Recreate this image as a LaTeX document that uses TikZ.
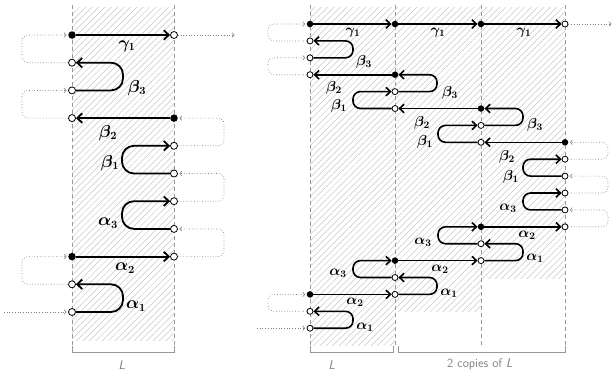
\documentclass[tikz,border=0pt]{standalone}
\usepackage{bm}
\usetikzlibrary{arrows.meta,patterns.meta}
\begin{document}
\begin{tikzpicture}[x=1pt,y=-1pt,
  fdotL/.style={circle,fill=black,inner sep=0pt,minimum size=7.5pt},
  odotL/.style={circle,draw=black,fill=white,inner sep=0pt,minimum size=7pt,line width=0.8pt},
  fdotR/.style={circle,fill=black,inner sep=0pt,minimum size=6.5pt},
  odotR/.style={circle,draw=black,fill=white,inner sep=0pt,minimum size=6pt,line width=0.8pt},
  arrL/.style={line width=1.8pt,-{Straight Barb[length=5pt,width=9.5pt]}},
  arrR/.style={line width=1.6pt,-{Straight Barb[length=4.5pt,width=8.5pt]}},
  dotl/.style={draw=gray,dotted,line width=0.7pt,-{Straight Barb[length=2pt,width=4.5pt,line width=0.6pt]},shorten >=1.5pt},
  hatch/.style={pattern={Lines[angle=45,distance=4.5pt,line width=0.5pt]},pattern color=gray!45},
  dsh/.style={draw=gray!80,dash pattern=on 4pt off 3pt,line width=0.7pt},
  brk/.style={draw=gray!80,line width=0.8pt},
  blbl/.style={text=gray,font=\sffamily\fontsize{12.5}{14}\selectfont,inner sep=0pt},
  lblL/.style={font=\fontsize{16}{18}\selectfont,inner sep=0pt},
  lblR/.style={font=\fontsize{14}{16}\selectfont,inner sep=0pt},
  UL/.style={rounded corners=12pt},
  UR/.style={rounded corners=7.5pt},
  LPL/.style={rounded corners=6pt},
]
\useasboundingbox (0,0) rectangle (615,373);
% ================= left diagram =================
\fill[hatch] (72,7) rectangle (174,340);
\draw[dsh] (72,5) -- (72,346);
\draw[dsh] (174,5) -- (174,346);
\draw[brk] (72,346) -- (72,352) -- (174,352) -- (174,346);
\node[blbl] (labL) at (122,365) {\textit{L}};

\node[fdotL] (Ll0) at (72,35) {};
\node[odotL] (Ll1) at (72,62.7) {};
\node[odotL] (Ll2) at (72,90.4) {};
\node[odotL] (Ll3) at (72,118.1) {};
\node[fdotL] (Ll8) at (72,256.6) {};
\node[odotL] (Ll9) at (72,284.3) {};
\node[odotL] (Ll10) at (72,312) {};
\node[odotL] (Lr0) at (174,35) {};
\node[fdotL] (Lr3) at (174,118.1) {};
\node[odotL] (Lr4) at (174,145.8) {};
\node[odotL] (Lr5) at (174,173.5) {};
\node[odotL] (Lr6) at (174,201.2) {};
\node[odotL] (Lr7) at (174,228.9) {};
\node[odotL] (Lr8) at (174,256.6) {};

\draw[arrL] (Ll0) -- (Lr0);
\draw[arrL,UL] (Ll2) -- (123,90.4) |- (Ll1);
\draw[arrL] (Lr3) -- (Ll3);
\draw[arrL,UL] (Lr5) -- (122,173.5) |- (Lr4);
\draw[arrL,UL] (Lr7) -- (122,228.9) |- (Lr6);
\draw[arrL] (Ll8) -- (Lr8);
\draw[arrL,UL] (Ll10) -- (123,312) |- (Ll9);

\draw[dotl,LPL] (Ll1) -- (22,62.7) |- (Ll0);
\draw[dotl,LPL] (Ll3) -- (22,118.1) |- (Ll2);
\draw[dotl,LPL] (Ll9) -- (22,284.3) |- (Ll8);
\draw[dotl,LPL] (Lr4) -- (224,145.8) |- (Lr3);
\draw[dotl,LPL] (Lr6) -- (224,201.2) |- (Lr5);
\draw[dotl,LPL] (Lr8) -- (224,256.6) |- (Lr7);
\coordinate (Lout) at (236,35);
\coordinate (Lin) at (4,312);
\draw[dotl] (Lr0) -- (Lout);
\draw[dotl] (Lin) -- (Ll10);

\node[lblL] (lg) at (127,46) {$\bm{\gamma_1}$};
\node[lblL] (lb3) at (137,88) {$\bm{\beta_3}$};
\node[lblL] (lb2) at (108,133) {$\bm{\beta_2}$};
\node[lblL] (lb1) at (110,163) {$\bm{\beta_1}$};
\node[lblL] (la3) at (108,223) {$\bm{\alpha_3}$};
\node[lblL] (la2) at (125,268) {$\bm{\alpha_2}$};
\node[lblL] (la1) at (136,306) {$\bm{\alpha_1}$};

% ================= right diagram =================
\fill[hatch] (310,7) rectangle (395,345);
\fill[hatch] (395,7) rectangle (481,311);
\fill[hatch] (481,7) rectangle (565,278);
\foreach \xx in {310,395,481,565} \draw[dsh] (\xx,5) -- (\xx,346);
\draw[brk] (310,346) -- (310,352) -- (393,352) -- (393,346);
\draw[brk] (398,346) -- (398,352) -- (565,352) -- (565,346);
\node[blbl] (labR1) at (332,365) {\textit{L}};
\node[blbl] (labR2) at (480,364) {2 copies of \textit{L}};

% column A
\node[fdotR] (A0) at (310,24) {};
\node[odotR] (A1) at (310,40.9) {};
\node[odotR] (A2) at (310,57.8) {};
\node[odotR] (A3) at (310,74.7) {};
\node[fdotR] (A16) at (310,294.4) {};
\node[odotR] (A17) at (310,311.3) {};
\node[odotR] (A18) at (310,328.2) {};
% column B
\node[fdotR] (B0) at (395,24) {};
\node[fdotR] (B3) at (395,74.7) {};
\node[odotR] (B4) at (395,91.6) {};
\node[odotR] (B5) at (395,108.5) {};
\node[fdotR] (B14) at (395,260.6) {};
\node[odotR] (B15) at (395,277.5) {};
\node[odotR] (B16) at (395,294.4) {};
% column C
\node[fdotR] (C0) at (481,24) {};
\node[fdotR] (C5) at (481,108.5) {};
\node[odotR] (C6) at (481,125.4) {};
\node[odotR] (C7) at (481,142.3) {};
\node[fdotR] (C12) at (481,226.8) {};
\node[odotR] (C13) at (481,243.7) {};
\node[odotR] (C14) at (481,260.6) {};
% column D
\node[odotR] (D0) at (565,24) {};
\node[fdotR] (D7) at (565,142.3) {};
\node[odotR] (D8) at (565,159.2) {};
\node[odotR] (D9) at (565,176.1) {};
\node[odotR] (D10) at (565,193) {};
\node[odotR] (D11) at (565,209.9) {};
\node[odotR] (D12) at (565,226.8) {};

% copy 1
\draw[arrR] (A0) -- (B0);
\draw[arrR,UR] (A2) -- (353,57.8) |- (A1);
\draw[arrR] (B3) -- (A3);
\draw[arrR,UR] (B5) -- (353,108.5) |- (B4);
\draw[arrR,UR] (B15) -- (353,277.5) |- (B14);
\draw[arrR] (A16) -- (B16);
\draw[arrR,UR] (A18) -- (353,328.2) |- (A17);
% copy 2
\draw[arrR] (B0) -- (C0);
\draw[arrR,UR] (B4) -- (437,91.6) |- (B3);
\draw[arrR] (C5) -- (B5);
\draw[arrR,UR] (C7) -- (438,142.3) |- (C6);
\draw[arrR,UR] (C13) -- (438,243.7) |- (C12);
\draw[arrR] (B14) -- (C14);
\draw[arrR,UR] (B16) -- (437,294.4) |- (B15);
% copy 3
\draw[arrR] (C0) -- (D0);
\draw[arrR,UR] (C6) -- (523,125.4) |- (C5);
\draw[arrR] (D7) -- (C7);
\draw[arrR,UR] (D9) -- (523,176.1) |- (D8);
\draw[arrR,UR] (D11) -- (523,209.9) |- (D10);
\draw[arrR] (C12) -- (D12);
\draw[arrR,UR] (C14) -- (523,260.6) |- (C13);

% dotted loops
\draw[dotl,LPL] (A1) -- (268,40.9) |- (A0);
\draw[dotl,LPL] (A3) -- (268,74.7) |- (A2);
\draw[dotl,LPL] (A17) -- (268,311.3) |- (A16);
\draw[dotl,LPL] (D8) -- (608,159.2) |- (D7);
\draw[dotl,LPL] (D10) -- (608,193) |- (D9);
\draw[dotl,LPL] (D12) -- (608,226.8) |- (D11);
\coordinate (Rout) at (613,24);
\coordinate (Rin) at (257,328.2);
\draw[dotl] (D0) -- (Rout);
\draw[dotl] (Rin) -- (A18);

% labels
\node[lblR] (rg1) at (353,33) {$\bm{\gamma_1}$};
\node[lblR] (rg2) at (438,33) {$\bm{\gamma_1}$};
\node[lblR] (rg3) at (524,33) {$\bm{\gamma_1}$};
\node[lblR] (rb31) at (364,62) {$\bm{\beta_3}$};
\node[lblR] (rb21) at (334,88) {$\bm{\beta_2}$};
\node[lblR] (rb11) at (339,106) {$\bm{\beta_1}$};
\node[lblR] (rb32) at (450,93) {$\bm{\beta_3}$};
\node[lblR] (rb22) at (422,123) {$\bm{\beta_2}$};
\node[lblR] (rb12) at (425,142) {$\bm{\beta_1}$};
\node[lblR] (rb33) at (535,125) {$\bm{\beta_3}$};
\node[lblR] (rb23) at (507,157) {$\bm{\beta_2}$};
\node[lblR] (rb13) at (511,177) {$\bm{\beta_1}$};
\node[lblR] (ra33) at (508,208) {$\bm{\alpha_3}$};
\node[lblR] (ra23) at (527,235) {$\bm{\alpha_2}$};
\node[lblR] (ra13) at (535,258) {$\bm{\alpha_1}$};
\node[lblR] (ra32) at (423,242) {$\bm{\alpha_3}$};
\node[lblR] (ra22) at (440,269) {$\bm{\alpha_2}$};
\node[lblR] (ra12) at (449,293) {$\bm{\alpha_1}$};
\node[lblR] (ra31) at (338,273) {$\bm{\alpha_3}$};
\node[lblR] (ra21) at (355,302) {$\bm{\alpha_2}$};
\node[lblR] (ra11) at (365,327) {$\bm{\alpha_1}$};
\end{tikzpicture}
\end{document}
